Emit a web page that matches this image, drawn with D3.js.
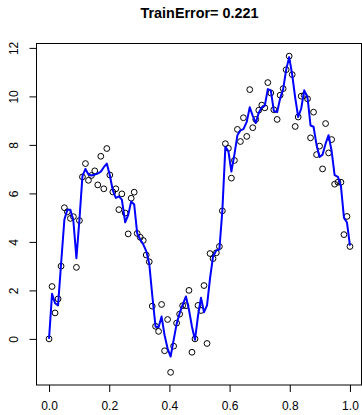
<!DOCTYPE html>
<html>
<head>
<meta charset="utf-8">
<script src="https://cdn.jsdelivr.net/npm/d3@7"></script>
<style>
  html, body { margin: 0; padding: 0; background: #fff; }
  svg { display: block; }
  text { font-family: "Liberation Sans", Arial, Helvetica, sans-serif; fill: #000; }
</style>
</head>
<body>
<svg id="chart" width="362" height="415"></svg>
<script>
const titleText = "TrainError= 0.221";

const xValues = [
  0, .010, .020, .030, .040, .051, .061, .071, .081, .091,
  .101, .111, .121, .131, .141, .152, .162, .172, .182, .192,
  .202, .212, .222, .232, .242, .253, .263, .273, .283, .293,
  .303, .313, .323, .333, .343, .354, .364, .374, .384, .394,
  .404, .414, .424, .434, .444, .455, .465, .475, .485, .495,
  .505, .515, .525, .535, .545, .556, .566, .576, .586, .596,
  .606, .616, .626, .636, .646, .657, .667, .677, .687, .697,
  .707, .717, .727, .737, .747, .758, .768, .778, .788, .798,
  .808, .818, .828, .838, .848, .859, .869, .879, .889, .899,
  .909, .919, .929, .939, .949, .960, .970, .980, .990, 1
];

const observed = [
  0.00, 2.16, 1.07, 1.65, 3.00, 5.41, 5.24, 4.97, 5.04, 2.95,
  4.88, 6.68, 7.23, 6.54, 6.74, 6.93, 6.35, 7.53, 6.19, 7.85,
  6.76, 6.06, 6.19, 5.33, 5.98, 5.19, 4.33, 5.80, 6.05, 4.35,
  4.19, 4.06, 3.46, 3.18, 1.35, 0.52, 0.31, 1.42, -0.49, 0.80,
  -1.38, -0.30, 0.65, 1.02, 1.37, 1.37, 2.00, -0.55, 0.00, 1.38,
  1.17, 2.20, -0.19, 3.52, 3.31, 3.55, 3.81, 5.28, 8.05, 7.86,
  6.63, 7.36, 8.64, 8.14, 9.12, 8.35, 10.28, 8.71, 9.05, 9.43,
  9.64, 9.53, 10.57, 10.14, 9.45, 9.05, 10.05, 10.32, 11.10, 11.66,
  10.90, 8.76, 9.15, 10.01, 10.04, 9.90, 8.29, 9.35, 7.60, 7.95,
  7.01, 8.88, 7.67, 8.22, 6.38, 6.46, 6.46, 4.30, 5.05, 3.81
];

const fitted = [
  0.00, 1.86, 1.47, 1.38, 3.10, 4.92, 5.33, 5.33, 4.85, 3.33,
  4.92, 6.71, 7.01, 6.78, 6.74, 6.78, 6.82, 6.90, 7.08, 7.23,
  6.75, 6.12, 5.81, 5.88, 5.74, 4.81, 5.10, 5.67, 5.54, 4.35,
  4.10, 3.90, 3.62, 3.10, 1.80, 0.50, 0.48, 0.92, 0.15, -0.40,
  -0.73, -0.05, 0.62, 1.06, 1.40, 1.75, 1.20, 0.50, -0.04, 0.95,
  1.70, 1.10, 1.38, 2.50, 3.40, 3.65, 3.68, 5.30, 7.92, 7.74,
  6.90, 7.60, 8.40, 8.60, 8.65, 8.95, 9.55, 9.20, 8.90, 9.33,
  9.55, 9.62, 10.30, 10.25, 9.40, 9.35, 9.92, 10.30, 11.10, 11.62,
  10.90, 9.95, 9.15, 9.50, 10.25, 9.95, 8.80, 8.75, 8.00, 7.50,
  7.60, 8.05, 8.40, 7.75, 6.75, 6.68, 6.30, 5.00, 4.80, 3.85
];

const xTicks = [0, 0.2, 0.4, 0.6, 0.8, 1.0];
const yTicks = [0, 2, 4, 6, 8, 10, 12];

const svg = d3.select("#chart");
const plot = { left: 37, right: 362, top: 43.5, bottom: 385 };

function rExtend(ext) {
  const d = (ext[1] - ext[0]) * 0.04;
  return [ext[0] - d, ext[1] + d];
}

const allY = observed.concat(fitted);
const x = d3.scaleLinear().domain(rExtend(d3.extent(xValues))).range([plot.left, plot.right]);
const y = d3.scaleLinear().domain(rExtend(d3.extent(allY))).range([plot.bottom, plot.top]);

// title
svg.append("text")
  .attr("x", (plot.left + plot.right) / 2)
  .attr("y", 18)
  .attr("text-anchor", "middle")
  .style("font-weight", "bold")
  .style("font-size", "14.4px")
  .text(titleText);

// x axis
const xAxis = d3.axisBottom(x).tickValues(xTicks).tickSize(7).tickSizeOuter(0)
  .tickFormat(d3.format(".1f"));
const gx = svg.append("g").attr("transform", `translate(0,${plot.bottom})`).call(xAxis);
gx.select(".domain").remove();
gx.selectAll("line").attr("stroke", "#000");
gx.selectAll("text").style("font-size", "12px").attr("y", 16).attr("dy", "0.71em")
  .style("font-family", '"Liberation Sans", Arial, sans-serif');

// y axis
const yAxis = d3.axisLeft(y).tickValues(yTicks).tickSize(7).tickSizeOuter(0);
const gy = svg.append("g").attr("transform", `translate(${plot.left - 0.5},0)`).call(yAxis);
gy.select(".domain").remove();
gy.selectAll("line").attr("stroke", "#000");
gy.selectAll("text")
  .style("font-size", "12px")
  .style("font-family", '"Liberation Sans", Arial, sans-serif')
  .attr("x", null).attr("dy", null)
  .attr("text-anchor", "middle")
  .attr("dominant-baseline", "central")
  .attr("transform", "translate(-23,0) rotate(-90)");

// box
svg.append("rect")
  .attr("x", plot.left - 0.5)
  .attr("y", plot.top)
  .attr("width", plot.right - plot.left)
  .attr("height", plot.bottom - plot.top)
  .attr("fill", "none")
  .attr("stroke", "#000")
  .attr("stroke-width", 1);

const pts = xValues.map((v, i) => ({ x: v, obs: observed[i], fit: fitted[i] }));

// points
svg.append("g").selectAll("circle").data(pts).join("circle")
  .attr("cx", d => x(d.x))
  .attr("cy", d => y(d.obs))
  .attr("r", 2.9)
  .attr("fill", "none")
  .attr("stroke", "#000")
  .attr("stroke-width", 1);

// fitted line
svg.append("path")
  .datum(pts)
  .attr("fill", "none")
  .attr("stroke", "#0000ff")
  .attr("stroke-width", 2)
  .attr("stroke-linejoin", "round")
  .attr("d", d3.line().x(d => x(d.x)).y(d => y(d.fit)));
</script>
</body>
</html>
